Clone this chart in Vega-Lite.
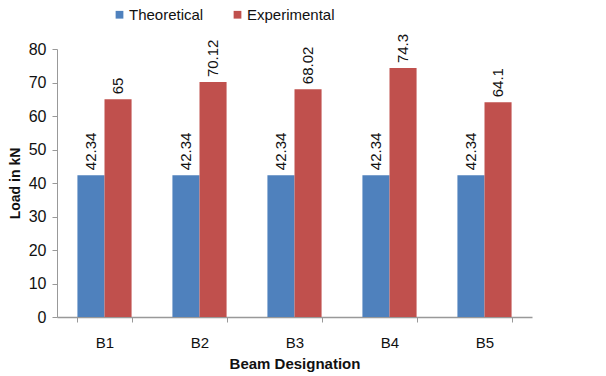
{
  "$schema": "https://vega.github.io/schema/vega-lite/v6.json",
  "width": 475,
  "height": 268,
  "autosize": {"type": "none"},
  "padding": {"left": 57, "top": 49, "right": 74, "bottom": 59},
  "background": "white",
  "config": {
    "view": {"stroke": null},
    "font": "Liberation Sans",
    "axis": {"labelFont": "Liberation Sans", "titleFont": "Liberation Sans", "labelColor": "#111", "titleColor": "#111", "domainColor": "#999", "tickColor": "#999", "grid": false}
  },
  "data": {
    "values": [
      {"beam": "B1", "type": "Theoretical", "load": 42.34},
      {"beam": "B1", "type": "Experimental", "load": 65},
      {"beam": "B2", "type": "Theoretical", "load": 42.34},
      {"beam": "B2", "type": "Experimental", "load": 70.12},
      {"beam": "B3", "type": "Theoretical", "load": 42.34},
      {"beam": "B3", "type": "Experimental", "load": 68.02},
      {"beam": "B4", "type": "Theoretical", "load": 42.34},
      {"beam": "B4", "type": "Experimental", "load": 74.3},
      {"beam": "B5", "type": "Theoretical", "load": 42.34},
      {"beam": "B5", "type": "Experimental", "load": 64.1}
    ]
  },
  "encoding": {
    "x": {
      "field": "beam", "type": "nominal",
      "scale": {"paddingInner": 0.43, "paddingOuter": 0.215},
      "axis": {"title": "Beam Designation", "labelAngle": 0, "labelFontSize": 15, "labelPadding": 13, "titleFontSize": 15, "titleFontWeight": "bold", "titlePadding": 6, "ticks": true, "tickBand": "extent", "tickSize": 5, "domainWidth": 1.5}
    },
    "xOffset": {"field": "type", "type": "nominal", "sort": ["Theoretical", "Experimental"], "scale": {"paddingInner": 0}},
    "y": {
      "field": "load", "type": "quantitative",
      "scale": {"domain": [0, 80], "nice": false},
      "axis": {"title": "Load in kN", "values": [0,10,20,30,40,50,60,70,80], "labelOverlap": false, "labelFontSize": 16, "labelPadding": 6, "tickSize": 5, "titleFontSize": 14, "titleFontWeight": "bold", "titlePadding": 6}
    }
  },
  "layer": [
    {
      "mark": {"type": "bar"},
      "encoding": {
        "color": {
          "field": "type", "type": "nominal",
          "sort": ["Theoretical", "Experimental"],
          "scale": {"domain": ["Theoretical", "Experimental"], "range": ["#4F81BD", "#C0504D"]},
          "legend": {"title": null, "orient": "none", "direction": "horizontal", "legendX": 55, "legendY": -42, "symbolType": "square", "symbolSize": 60, "labelFontSize": 15, "labelColor": "#111", "columnPadding": 26, "labelOffset": 2}
        }
      }
    },
    {
      "mark": {"type": "text", "angle": 270, "align": "left", "baseline": "middle", "dx": 5, "fontSize": 15, "color": "#111"},
      "encoding": {"text": {"field": "load", "type": "quantitative"}}
    }
  ]
}
